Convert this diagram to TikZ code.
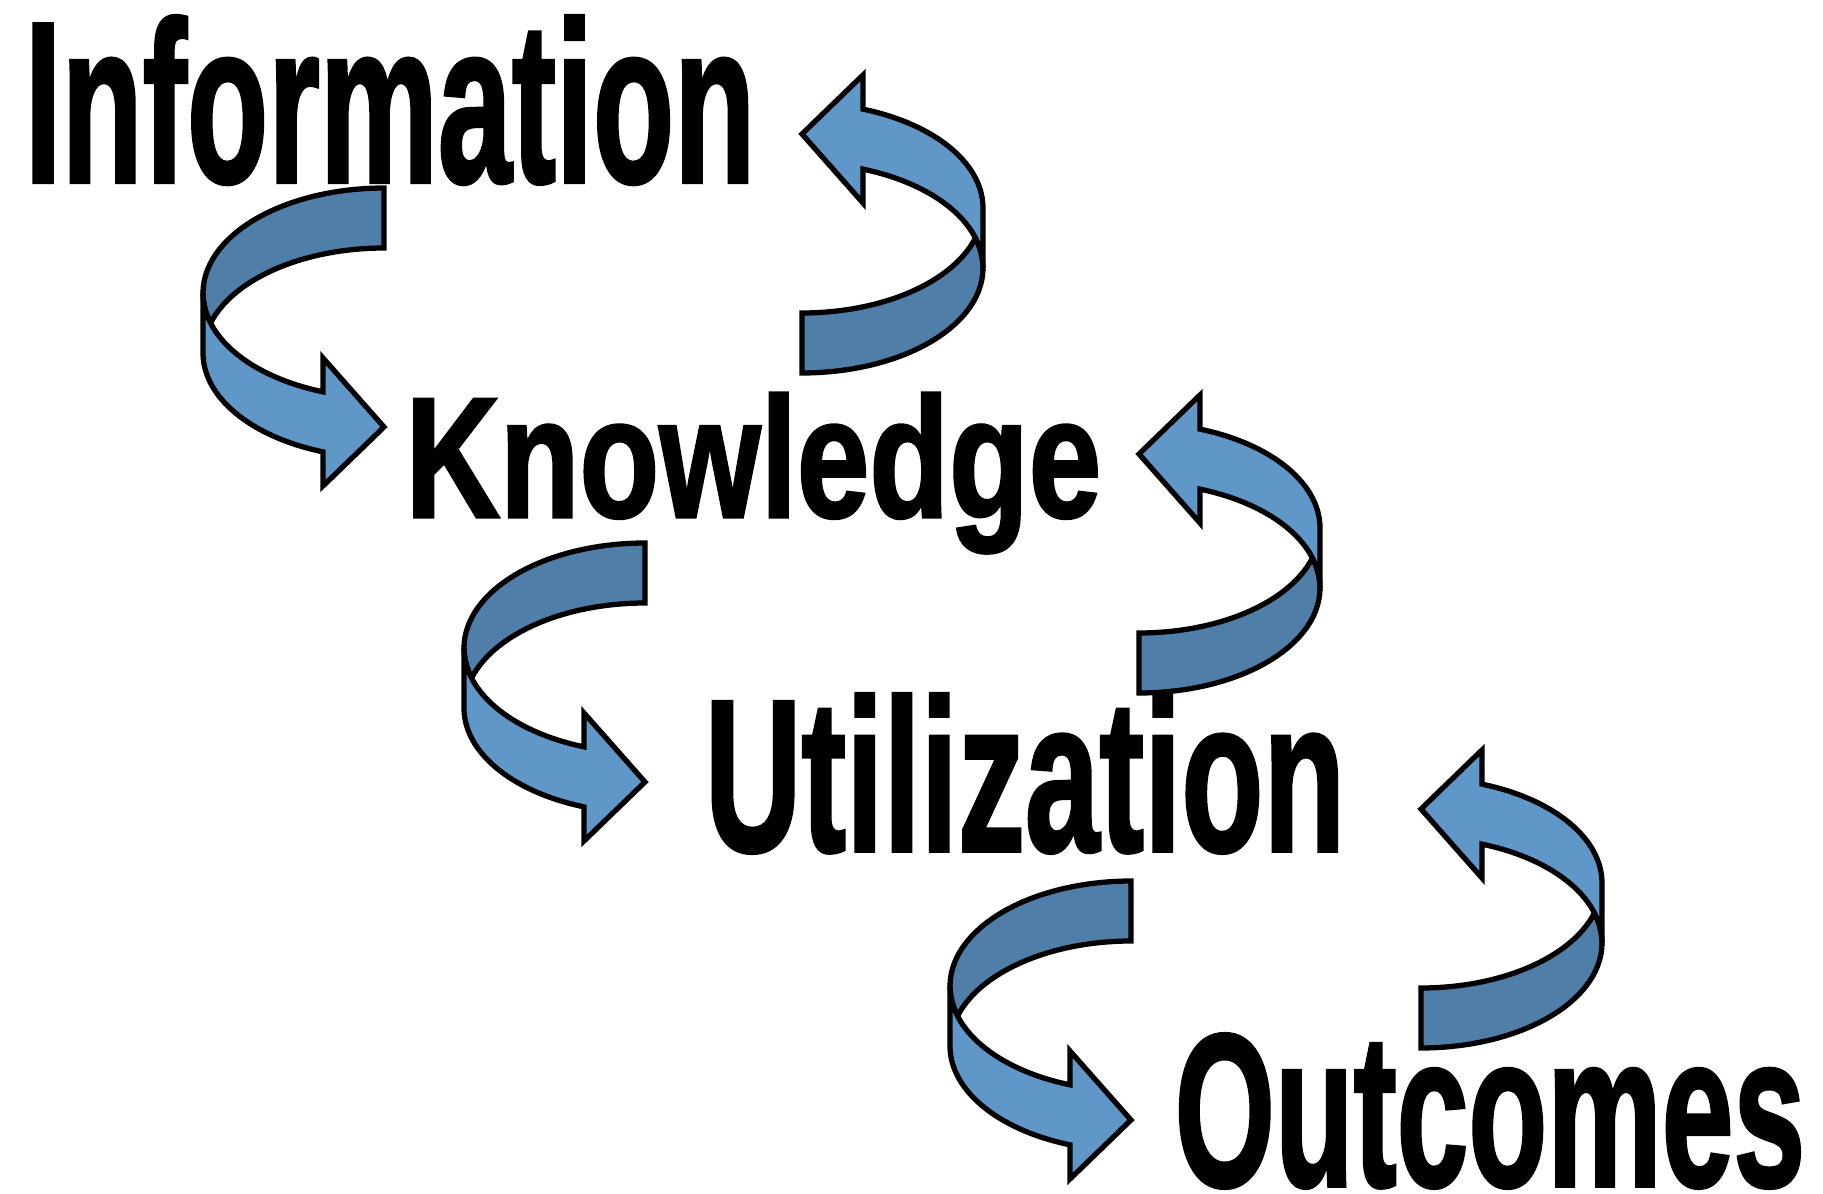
\documentclass[tikz,border=0pt]{standalone}
\usepackage{fontspec}
\usepackage{graphicx}
\newfontfamily\wordfont{Liberation Sans Bold}[FakeBold=1.8]
\definecolor{ribbonlight}{RGB}{96,151,201}
\definecolor{ribbondark}{RGB}{79,126,168}
\tikzset{
  ribbon/.style={draw=black, line width=1.5pt},
  uturn/.pic={
    % back of the band
    \path[ribbon, fill=ribbondark]
      plot[domain=90:180, samples=30] ({181*cos(\x)}, {105-105*sin(\x)})
      -- plot[domain=180:196.6, samples=6] ({181*cos(\x)}, {105-105*sin(\x)})
      -- plot[domain=163.4:90, samples=30] ({181*cos(\x)}, {165-105*sin(\x)})
      -- cycle;
    % front of the band with its head
    \path[ribbon, fill=ribbonlight]
      plot[domain=180:250.3, samples=40] ({181*cos(\x)}, {105-105*sin(\x)})
      -- (-61,170) -- (0,239) -- (-61,298)
      -- plot[domain=250.3:180, samples=40] ({181*cos(\x)}, {165-105*sin(\x)})
      -- cycle;
  }
}

\begin{document}
\begin{tikzpicture}[x=0.01cm, y=-0.01cm]
\useasboundingbox (0,0) rectangle (1823,1194);

\node (Info) [anchor=base west, inner sep=0] at (24,182) {\resizebox{7.3cm}{1.66cm}{\wordfont Information}};
\node (Know) [anchor=base west, inner sep=0] at (405,517) {\resizebox{6.95cm}{1.24cm}{\wordfont Knowledge}};
\node (Util) [anchor=base west, inner sep=0] at (704,851) {\resizebox{6.4cm}{1.57cm}{\wordfont Utilization}};
\node (Out) [anchor=base west, inner sep=0] at (1174,1186) {\resizebox{6.3cm}{1.52cm}{\wordfont Outcomes}};

% forward turns
\pic at (384,188) {uturn};
\pic at (645,543) {uturn};
\pic at (1131,881) {uturn};
% backward turns
\pic[rotate=180] at (802,373) {uturn};
\pic[rotate=180] at (1139,693) {uturn};
\pic[rotate=180] at (1421,1048) {uturn};
\end{tikzpicture}
\end{document}
